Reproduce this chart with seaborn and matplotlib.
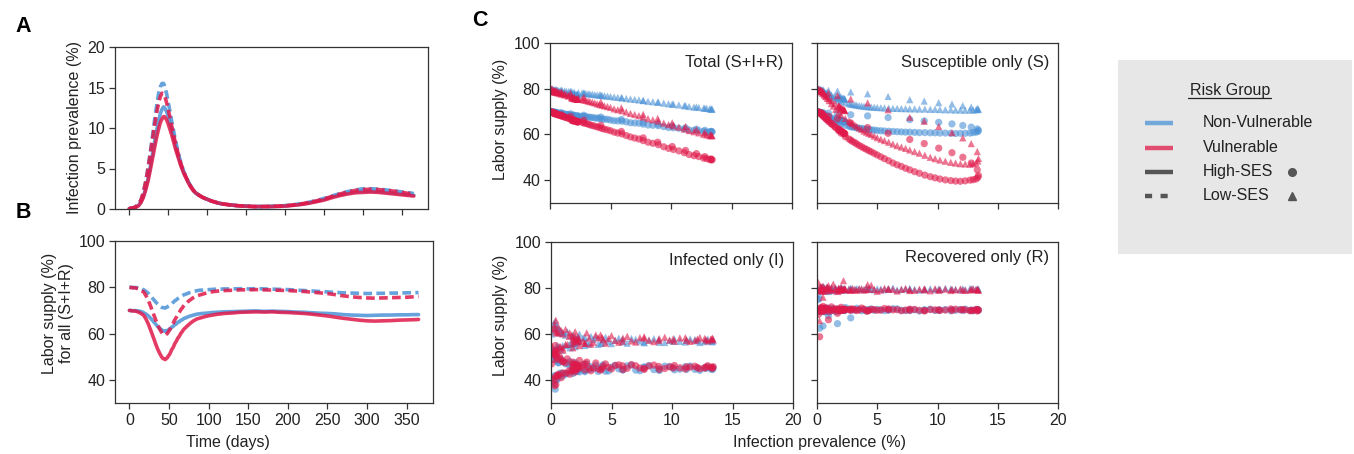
import numpy as np
import pandas as pd
import matplotlib
matplotlib.use("Agg")
import matplotlib.pyplot as plt
import seaborn as sns

# ---------------- data ----------------
days = [0, 4, 8, 12, 15, 18, 21, 24, 27, 30, 32, 34, 36, 38, 40, 42,
        44, 45, 46, 47, 48, 49, 50, 51, 52, 53, 54, 55, 56, 57, 58, 59, 60, 61, 62,
        63, 64, 65, 66, 67, 68, 69, 70, 71, 72, 73, 74, 75, 76, 77, 78, 79, 80,
        82, 85, 88, 92, 96, 100, 105, 110, 115, 120, 130, 140, 150, 160, 170, 180,
        190, 200, 210, 220, 230, 240, 250, 260, 270, 280, 290, 300, 310, 320, 330,
        340, 350, 360, 365]

# overall infection prevalence (x axis of panel C)
prev_all = [0.05, 0.11, 0.22, 0.5, 0.95, 1.7, 2.8, 4.2, 5.9, 7.7, 8.9, 10.1, 11.2, 12.1, 12.8, 13.3,
            13.4, 13.35, 13.2, 12.95, 12.7, 12.3, 11.9, 11.5, 11.1, 10.65, 10.2, 9.8, 9.4, 8.95, 8.5,
            8.1, 7.7, 7.35, 7.0, 6.65, 6.3, 5.95, 5.6, 5.3, 5.0, 4.75, 4.5, 4.3, 4.1, 3.9, 3.7, 3.5,
            3.3, 3.15, 2.95, 2.8, 2.65,
            2.35, 2.0, 1.8, 1.55, 1.35, 1.2, 1.0, 0.85, 0.72, 0.62, 0.5, 0.4, 0.35, 0.3, 0.3, 0.31,
            0.34, 0.39, 0.48, 0.6, 0.77, 0.97, 1.2, 1.5, 1.8, 2.0, 2.2, 2.3, 2.3, 2.25, 2.15, 2.05,
            1.95, 1.85, 1.8]

# panel A: infection prevalence by group
prev_nv_high = [0.05, 0.1, 0.2, 0.45, 0.85, 1.5, 2.5, 3.7, 5.2, 6.9, 8.0, 9.1, 10.1, 11.0, 11.8, 12.3,
                12.6, 12.55, 12.4, 12.2, 12.0, 11.7, 11.4, 11.05, 10.7, 10.35, 10.0, 9.6, 9.2, 8.8, 8.4,
                8.0, 7.6, 7.25, 6.9, 6.55, 6.2, 5.9, 5.6, 5.3, 5.0, 4.75, 4.5, 4.3, 4.1, 3.9, 3.7, 3.5,
                3.3, 3.15, 2.95, 2.8, 2.65,
                2.35, 2.0, 1.8, 1.55, 1.35, 1.2, 1.0, 0.85, 0.72, 0.62, 0.5, 0.4, 0.35, 0.3, 0.3, 0.3,
                0.33, 0.38, 0.47, 0.58, 0.75, 0.95, 1.2, 1.5, 1.75, 1.95, 2.1, 2.2, 2.2, 2.15, 2.05, 1.95,
                1.85, 1.75, 1.7]
prev_v_high = [0.05, 0.1, 0.2, 0.4, 0.8, 1.4, 2.3, 3.4, 4.8, 6.3, 7.3, 8.3, 9.2, 10.0, 10.7, 11.1,
               11.4, 11.4, 11.3, 11.15, 11.0, 10.75, 10.5, 10.2, 9.9, 9.6, 9.3, 8.95, 8.6, 8.25, 7.9,
               7.55, 7.2, 6.9, 6.6, 6.3, 6.0, 5.7, 5.4, 5.15, 4.9, 4.65, 4.4, 4.2, 4.0, 3.8, 3.6, 3.4,
               3.2, 3.05, 2.85, 2.7, 2.55,
               2.3, 2.0, 1.8, 1.55, 1.35, 1.2, 1.0, 0.85, 0.72, 0.62, 0.5, 0.4, 0.35, 0.3, 0.3, 0.3,
               0.32, 0.36, 0.45, 0.55, 0.7, 0.9, 1.1, 1.4, 1.65, 1.85, 2.0, 2.05, 2.1, 2.05, 1.95, 1.85,
               1.75, 1.65, 1.6]
prev_nv_low = [0.05, 0.12, 0.25, 0.6, 1.1, 2.0, 3.3, 5.0, 7.0, 9.1, 10.6, 12.0, 13.3, 14.4, 15.1, 15.5,
               15.5, 15.3, 15.0, 14.6, 14.2, 13.7, 13.2, 12.7, 12.2, 11.65, 11.1, 10.6, 10.1, 9.6, 9.1,
               8.65, 8.2, 7.75, 7.3, 6.9, 6.5, 6.15, 5.8, 5.5, 5.2, 4.9, 4.6, 4.35, 4.1, 3.9, 3.7, 3.5,
               3.3, 3.15, 2.95, 2.8, 2.65,
               2.35, 2.0, 1.8, 1.55, 1.35, 1.2, 1.0, 0.85, 0.72, 0.62, 0.5, 0.4, 0.35, 0.3, 0.3, 0.32,
               0.36, 0.42, 0.52, 0.65, 0.82, 1.05, 1.3, 1.6, 1.9, 2.15, 2.35, 2.5, 2.5, 2.45, 2.35, 2.25,
               2.1, 2.0, 1.9]
prev_v_low = [0.05, 0.12, 0.25, 0.6, 1.1, 2.0, 3.3, 4.9, 6.8, 8.7, 10.0, 11.2, 12.3, 13.2, 13.9, 14.3,
              14.2, 14.0, 13.8, 13.45, 13.1, 12.7, 12.3, 11.85, 11.4, 10.95, 10.5, 10.05, 9.6, 9.15, 8.7,
              8.3, 7.9, 7.5, 7.1, 6.75, 6.4, 6.05, 5.7, 5.4, 5.1, 4.85, 4.6, 4.35, 4.1, 3.9, 3.7, 3.5,
              3.3, 3.15, 2.95, 2.8, 2.65,
              2.35, 2.0, 1.8, 1.55, 1.35, 1.2, 1.0, 0.85, 0.72, 0.62, 0.5, 0.4, 0.35, 0.3, 0.3, 0.32,
              0.35, 0.4, 0.5, 0.62, 0.8, 1.0, 1.25, 1.55, 1.85, 2.1, 2.3, 2.4, 2.45, 2.4, 2.3, 2.2,
              2.05, 1.9, 1.85]

# panel B / C-total: labor supply for all (S+I+R)
lab_nv_high = [70.0, 69.9, 69.9, 69.7, 69.5, 69.0, 68.4, 67.6, 66.5, 65.3, 64.5, 63.7, 62.9, 62.3, 61.8, 61.3,
               61.1, 61.3, 61.1, 61.0, 61.3, 61.6, 61.8, 61.9, 62.3, 62.7, 62.9, 63.0, 63.4, 63.8, 64.0,
               64.1, 64.5, 64.9, 65.0, 65.1, 65.5, 65.8, 65.9, 66.0, 66.3, 66.6, 66.7, 66.7, 67.0, 67.1,
               67.2, 67.4, 67.5, 67.6, 67.7, 67.8, 67.9,
               68.1, 68.4, 68.5, 68.7, 68.8, 68.9, 69.1, 69.2, 69.3, 69.4, 69.5, 69.6, 69.7, 69.8, 69.6,
               69.7, 69.6, 69.5, 69.3, 69.2, 69.0, 68.8, 68.7, 68.5, 68.2, 68.0, 67.9, 67.8, 67.9, 68.0,
               68.0, 68.1, 68.1, 68.2, 68.2]
lab_v_high = [70.0, 69.8, 69.7, 69.2, 68.6, 67.9, 66.2, 64.0, 61.3, 58.5, 56.6, 54.7, 53.0, 51.6, 50.3, 49.3,
              49.0, 48.8, 49.0, 49.4, 49.6, 50.3, 50.7, 51.2, 52.0, 52.8, 53.4, 53.9, 54.6, 55.5, 56.1,
              56.6, 57.3, 58.0, 58.4, 58.9, 59.5, 60.2, 60.6, 61.0, 61.6, 62.0, 62.3, 62.6, 63.0, 63.3,
              63.6, 63.9, 64.2, 64.5, 64.8, 65.0, 65.3,
              65.7, 66.3, 66.6, 67.0, 67.4, 67.7, 68.0, 68.3, 68.5, 68.7, 68.9, 69.2, 69.3, 69.4, 69.3,
              69.4, 69.2, 69.1, 68.9, 68.7, 68.4, 68.0, 67.6, 67.1, 66.6, 66.2, 65.8, 65.5, 65.4, 65.5,
              65.6, 65.8, 65.9, 66.0, 66.1]
lab_nv_low = [80.0, 79.9, 79.9, 79.7, 79.4, 78.9, 78.2, 77.3, 76.1, 74.9, 74.1, 73.3, 72.6, 72.0, 71.5, 71.2,
              71.1, 71.0, 71.2, 71.4, 71.5, 71.8, 72.0, 72.2, 72.6, 72.9, 73.2, 73.4, 73.7, 74.1, 74.3,
              74.5, 74.8, 75.1, 75.3, 75.5, 75.7, 76.0, 76.2, 76.4, 76.6, 76.8, 76.9, 77.0, 77.2, 77.3,
              77.4, 77.6, 77.7, 77.8, 77.9, 78.0, 78.1,
              78.3, 78.5, 78.7, 78.8, 78.9, 79.0, 79.1, 79.2, 79.2, 79.3, 79.3, 79.4, 79.3, 79.4, 79.3,
              79.2, 79.1, 79.0, 78.8, 78.6, 78.4, 78.2, 78.0, 77.8, 77.6, 77.5, 77.4, 77.3, 77.4, 77.4,
              77.5, 77.5, 77.6, 77.7, 77.7]
lab_v_low = [80.0, 79.8, 79.7, 79.2, 78.5, 78.0, 76.3, 74.2, 71.6, 68.8, 67.0, 65.1, 63.5, 62.1, 60.8, 59.9,
             59.5, 59.4, 59.5, 59.8, 60.1, 60.7, 61.2, 61.7, 62.4, 63.2, 63.8, 64.3, 65.0, 65.8, 66.4,
             66.9, 67.6, 68.2, 68.7, 69.2, 69.8, 70.4, 70.8, 71.2, 71.8, 72.2, 72.5, 72.8, 73.1, 73.4,
             73.8, 74.1, 74.4, 74.6, 74.9, 75.1, 75.4,
             75.8, 76.3, 76.6, 77.0, 77.4, 77.8, 78.1, 78.3, 78.5, 78.6, 78.7, 78.9, 78.9, 79.0, 78.9,
             78.8, 78.7, 78.6, 78.4, 78.2, 77.9, 77.6, 77.3, 76.8, 76.3, 75.9, 75.6, 75.4, 75.3, 75.4,
             75.5, 75.6, 75.7, 75.9, 76.0]

# susceptible only
sus_nv_high = [70.0, 69.9, 69.8, 69.6, 69.3, 69.0, 68.6, 68.1, 67.4, 66.5, 65.9, 65.3, 64.6, 63.9, 63.2, 62.4,
               61.8, 61.3, 61.0, 60.8, 60.6, 60.5, 60.5, 60.4, 60.5, 60.6, 60.6, 60.7, 60.7, 60.8, 60.8,
               60.9, 61.0, 61.0, 61.1, 61.2, 61.3, 61.4, 61.5, 61.6, 61.7, 61.9, 62.0, 62.1, 62.3, 62.4,
               62.6, 62.7, 62.9, 63.1, 63.2, 63.4, 63.6,
               64.0, 64.6, 65.0, 65.6, 66.2, 66.7, 67.2, 67.7, 68.1, 68.4, 68.9, 69.2, 69.4, 69.5, 69.5,
               69.4, 69.3, 69.1, 68.9, 68.6, 68.2, 67.8, 67.3, 66.8, 66.3, 66.0, 65.7, 65.5, 65.5, 65.6,
               65.8, 66.0, 66.2, 66.4, 66.5]
sus_nv_low = [80.0, 79.9, 79.8, 79.6, 79.3, 79.0, 78.6, 77.8, 76.6, 75.2, 74.6, 73.9, 73.3, 72.6, 72.0, 71.4,
              71.0, 70.9, 70.8, 70.7, 70.7, 70.6, 70.7, 70.7, 70.8, 70.8, 70.9, 71.0, 71.0, 71.1, 71.1,
              71.2, 71.2, 71.3, 71.3, 71.4, 71.4, 71.5, 71.6, 71.7, 71.8, 71.9, 72.0, 72.1, 72.2, 72.3,
              72.5, 72.6, 72.8, 73.0, 73.1, 73.3, 73.5,
              73.9, 74.5, 75.0, 75.6, 76.2, 76.7, 77.2, 77.7, 78.1, 78.4, 78.9, 79.2, 79.4, 79.5, 79.5,
              79.4, 79.3, 79.1, 78.9, 78.6, 78.2, 77.8, 77.3, 76.8, 76.3, 76.0, 75.7, 75.5, 75.5, 75.6,
              75.8, 76.0, 76.2, 76.4, 76.5]
sus_v_high = [70.0, 69.8, 69.5, 69.0, 68.0, 66.8, 65.0, 63.0, 60.5, 57.8, 56.0, 54.0, 52.0, 50.0, 47.5, 44.5,
              42.0, 41.2, 40.5, 40.2, 40.0, 39.7, 39.5, 39.6, 39.8, 40.1, 40.5, 41.0, 41.5, 42.2, 43.0,
              43.7, 44.5, 45.2, 46.0, 46.7, 47.5, 48.5, 49.4, 50.2, 51.0, 51.7, 52.4, 52.9, 53.5, 54.0,
              54.6, 55.2, 55.8, 56.4, 56.9, 57.5, 58.0,
              59.0, 60.5, 61.6, 62.9, 64.0, 64.8, 65.8, 66.5, 67.2, 67.7, 68.3, 68.8, 69.1, 69.4, 69.4,
              69.3, 69.0, 68.7, 68.2, 67.5, 66.6, 65.6, 64.6, 63.4, 62.3, 61.5, 60.8, 60.4, 60.2, 60.4,
              60.8, 61.2, 61.7, 62.0, 62.2]
sus_v_low = [80.0, 79.8, 79.5, 79.0, 78.2, 77.0, 75.5, 73.8, 70.8, 67.5, 65.8, 63.5, 60.8, 58.5, 56.0, 52.5,
             49.5, 48.4, 47.5, 47.2, 47.0, 47.1, 47.2, 47.5, 47.8, 48.3, 48.8, 49.4, 50.0, 50.9, 51.8,
             52.5, 53.2, 53.9, 54.5, 55.1, 55.8, 56.6, 57.3, 57.9, 58.6, 59.3, 60.0, 60.5, 61.0, 61.5,
             62.2, 62.8, 63.5, 64.1, 64.7, 65.3, 65.9,
             67.0, 68.5, 69.6, 71.0, 72.4, 73.5, 74.8, 75.8, 76.6, 77.2, 78.0, 78.6, 78.9, 79.2, 79.3,
             79.2, 79.0, 78.7, 78.2, 77.6, 76.8, 75.8, 74.8, 73.6, 72.5, 71.7, 71.0, 70.6, 70.4, 70.6,
             71.0, 71.4, 71.8, 72.2, 72.4]

# infected only
inf_nv_high = [38.5, 52.0, 41.0, 48.5, 43.0, 46.5, 44.0, 45.8, 44.5, 45.5, 44.8, 45.3, 44.6, 45.2, 45.0, 44.7,
               45.3, 44.6, 44.9, 45.8, 45.4, 44.2, 44.6, 46.1, 45.8, 44.7, 44.4, 45.9, 46.0, 44.1, 44.5,
               46.3, 45.7, 44.0, 44.3, 46.5, 46.2, 44.4, 44.8, 46.4, 45.6, 43.9, 43.8, 46.6, 45.0, 43.7,
               46.3, 44.9, 45.8, 44.5, 46.9, 43.6, 46.8,
               43.5, 47.5, 42.8, 48.0, 43.0, 47.0, 42.0, 49.0, 41.5, 47.5, 40.5, 50.5, 36.0, 53.0, 39.0,
               49.0, 42.0, 51.0, 40.0, 47.5, 43.0, 48.0, 42.5, 46.5, 44.0, 46.5, 43.8, 45.6, 44.6, 46.0,
               44.0, 46.2, 43.5, 46.8, 44.5]
inf_v_high = [47.0, 40.5, 51.5, 42.0, 48.0, 44.0, 47.0, 44.8, 46.2, 45.0, 45.9, 45.2, 45.7, 45.4, 45.6, 45.3,
              45.8, 45.1, 45.5, 46.2, 45.2, 44.9, 46.0, 45.6, 44.8, 45.3, 46.3, 45.7, 45.0, 44.6, 46.5,
              46.1, 44.6, 45.2, 46.2, 46.7, 45.1, 44.5, 46.6, 46.3, 44.8, 45.5, 47.0, 45.9, 44.3, 44.8,
              47.4, 45.3, 44.0, 45.2, 47.8, 44.4, 46.2,
              48.5, 43.5, 47.8, 42.5, 49.2, 43.0, 48.0, 41.0, 50.0, 42.5, 52.0, 38.0, 55.0, 40.0, 50.5,
              37.5, 52.5, 41.5, 49.5, 42.0, 49.0, 43.0, 47.5, 44.0, 47.0, 44.5, 46.5, 45.0, 46.0, 45.2,
              46.4, 44.6, 46.8, 44.2, 46.0]
inf_nv_low = [60.0, 53.0, 64.5, 55.0, 60.5, 55.5, 58.5, 56.2, 57.8, 56.5, 57.6, 56.8, 57.4, 57.0, 57.3, 56.9,
              57.5, 56.6, 57.1, 57.9, 56.7, 56.3, 57.6, 57.9, 56.5, 56.8, 57.9, 57.2, 56.3, 56.4, 58.0,
              57.4, 56.2, 56.9, 57.7, 58.1, 56.0, 56.6, 58.2, 57.3, 55.8, 56.7, 58.6, 57.5, 55.9, 55.5,
              58.7, 57.6, 59.0, 55.6, 56.4, 55.0, 58.3,
              60.0, 54.5, 59.5, 54.0, 61.0, 55.0, 60.5, 53.0, 62.0, 54.5, 63.5, 51.0, 65.5, 50.0, 63.0,
              52.5, 61.5, 52.0, 62.5, 54.0, 60.5, 55.0, 59.5, 55.5, 59.0, 56.0, 58.5, 56.5, 58.0, 56.8,
              57.9, 56.4, 58.3, 56.0, 57.5]
inf_v_low = [55.0, 62.0, 52.5, 60.5, 54.0, 59.5, 56.0, 58.6, 56.9, 58.2, 57.2, 57.9, 57.3, 57.8, 57.5, 57.9,
             57.4, 58.2, 57.8, 57.0, 58.1, 58.5, 57.2, 56.8, 58.4, 58.3, 56.9, 57.4, 58.6, 58.0, 56.7,
             57.3, 58.8, 58.4, 56.5, 57.0, 59.0, 58.2, 56.4, 57.2, 59.3, 58.0, 56.0, 57.5, 59.6, 58.3,
             59.6, 56.4, 55.6, 58.2, 60.5, 55.9, 57.0,
             55.0, 61.0, 54.0, 60.5, 55.5, 62.0, 53.0, 61.5, 54.5, 63.0, 52.0, 66.0, 49.0, 64.0, 52.5,
             62.5, 51.5, 61.0, 53.5, 60.5, 54.5, 60.0, 55.5, 59.0, 56.0, 58.8, 56.8, 58.2, 57.0, 58.4,
             57.2, 58.0, 56.6, 58.6, 57.4]

# recovered only
rec_nv_high = [70.0, 75.0, 62.5, 63.5, 68.0, 64.5, 67.0, 70.5, 70.4, 70.2, 70.5, 70.3, 70.6, 70.2, 70.4, 70.5,
               70.3, 70.5, 70.6, 70.1, 70.2, 70.8, 70.7, 70.3, 70.1, 70.6, 70.5, 70.2, 70.8, 70.4, 70.0,
               70.5, 70.6, 70.2, 70.3, 70.9, 71.0, 70.4, 70.2, 70.5, 70.7, 70.3, 70.9, 70.5, 70.0, 70.6,
               70.1, 70.7, 71.2, 70.3, 70.6, 70.4, 70.9,
               71.5, 70.2, 70.9, 69.8, 71.0, 70.5, 69.5, 71.3, 70.6, 69.6, 70.9, 70.2, 70.8, 69.9, 70.5,
               71.0, 70.3, 69.7, 70.6, 70.8, 69.9, 70.4, 70.9, 70.1, 70.6, 70.3, 70.5, 70.2, 70.6, 70.4,
               70.3, 70.7, 70.2, 70.5, 70.4]
rec_v_high = [70.0, 68.5, 58.8, 72.0, 66.2, 69.0, 70.8, 70.0, 70.6, 70.3, 70.1, 70.5, 70.2, 70.6, 70.3, 70.0,
              70.4, 70.6, 70.7, 70.2, 70.1, 70.5, 70.5, 70.8, 70.9, 70.4, 70.2, 70.5, 70.6, 70.1, 70.3,
              70.7, 70.8, 70.4, 70.1, 70.6, 70.5, 70.9, 71.1, 70.4, 70.3, 70.6, 70.7, 70.2, 70.0, 70.8,
              71.3, 70.5, 70.2, 70.6, 70.9, 70.3, 70.6,
              70.8, 71.6, 70.0, 71.0, 70.4, 71.8, 69.8, 70.9, 71.4, 69.9, 71.0, 70.3, 71.5, 69.7, 70.8,
              71.2, 70.1, 70.7, 69.9, 71.1, 70.4, 70.9, 70.2, 70.6, 70.8, 70.3, 70.5, 70.7, 70.4, 70.6,
              70.3, 70.5, 70.7, 70.4, 70.6]
rec_nv_low = [80.0, 75.5, 77.0, 80.5, 78.5, 79.0, 79.8, 79.4, 79.7, 79.5, 79.3, 79.6, 79.4, 79.7, 79.5, 79.3,
              79.6, 79.5, 79.4, 79.7, 79.8, 79.3, 79.2, 79.5, 79.6, 79.9, 79.4, 79.3, 79.7, 79.6, 79.1,
              79.5, 79.8, 79.6, 79.4, 79.2, 80.0, 79.5, 79.3, 79.6, 79.7, 79.2, 79.6, 79.9, 80.1, 79.4,
              79.3, 79.7, 79.8, 79.5, 79.4, 79.9, 79.6,
              79.0, 80.3, 79.4, 79.9, 78.9, 80.2, 79.5, 80.4, 78.8, 79.7, 80.5, 79.1, 80.0, 78.9, 80.3,
              79.4, 80.1, 79.2, 79.8, 80.2, 79.3, 79.9, 79.5, 80.0, 79.4, 79.7, 79.5, 79.6, 79.4, 79.7,
              79.5, 79.6, 79.3, 79.7, 79.5]
rec_v_low = [80.0, 82.4, 65.8, 76.0, 81.0, 78.5, 79.0, 81.5, 79.5, 79.2, 79.6, 79.0, 79.4, 79.1, 79.5, 79.2,
             79.0, 79.3, 79.4, 79.6, 79.1, 79.0, 79.6, 79.2, 78.9, 79.5, 79.3, 79.7, 78.8, 79.2, 79.5,
             79.0, 78.9, 79.8, 79.4, 78.7, 79.4, 79.6, 79.9, 79.1, 78.6, 79.4, 81.2, 79.5, 79.3, 79.1,
             79.7, 79.6, 79.0, 79.3, 79.8, 79.1, 79.4,
             79.6, 80.2, 78.8, 79.7, 81.7, 78.9, 79.8, 80.3, 78.7, 79.5, 80.8, 78.6, 80.1, 79.0, 80.6,
             78.9, 79.9, 80.4, 78.8, 79.6, 80.2, 79.1, 79.8, 79.4, 80.0, 79.3, 83.2, 79.2, 79.6, 79.4,
             79.7, 79.2, 79.5, 79.3, 79.6]

risk_levels = ["Non-Vulnerable", "Vulnerable"]
ses_levels = ["High-SES", "Low-SES"]
panel_titles = ["Total (S+I+R)", "Susceptible only (S)", "Infected only (I)", "Recovered only (R)"]

# ---------------- build long table ----------------
groups = [
    ("Non-Vulnerable", "High-SES", prev_nv_high, lab_nv_high, sus_nv_high, inf_nv_high, rec_nv_high),
    ("Non-Vulnerable", "Low-SES", prev_nv_low, lab_nv_low, sus_nv_low, inf_nv_low, rec_nv_low),
    ("Vulnerable", "High-SES", prev_v_high, lab_v_high, sus_v_high, inf_v_high, rec_v_high),
    ("Vulnerable", "Low-SES", prev_v_low, lab_v_low, sus_v_low, inf_v_low, rec_v_low),
]
frames = []
for risk, ses, pg, tot, s, i, r in groups:
    frames.append(pd.DataFrame({
        "day": days, "prev_all": prev_all, "prev": pg,
        "Total": tot, "S": s, "I": i, "R": r,
        "risk": risk, "ses": ses}))
df = pd.concat(frames, ignore_index=True)

# ---------------- style ----------------
sns.set_style("ticks")
plt.rcParams["font.family"] = ["Liberation Sans", "DejaVu Sans"]
plt.rcParams["axes.edgecolor"] = "#333333"
plt.rcParams["axes.linewidth"] = 0.9
plt.rcParams["xtick.color"] = "#333333"
plt.rcParams["ytick.color"] = "#333333"
plt.rcParams["xtick.labelcolor"] = "#222222"
plt.rcParams["ytick.labelcolor"] = "#222222"

BLUE = "#4b92d6"
RED = "#e0194a"
palette = {"Non-Vulnerable": BLUE, "Vulnerable": RED}
TXT = "#222222"
FS = 11.5

W, H = 1354, 454
fig = plt.figure(figsize=(W / 100, H / 100), dpi=100)


def box(l, t, r, b):
    return [l / W, 1 - b / H, (r - l) / W, (b - t) / H]


def ftext(px, py, s, **kw):
    kw.setdefault("color", TXT)
    kw.setdefault("fontsize", FS)
    fig.text(px / W, 1 - py / H, s, **kw)


axA = fig.add_axes(box(115, 47, 428, 209))
axB = fig.add_axes(box(115, 241, 433, 403))
axC = [fig.add_axes(box(550, 43, 792, 203)),
       fig.add_axes(box(817, 43, 1058, 203)),
       fig.add_axes(box(551, 242, 793, 403)),
       fig.add_axes(box(817, 242, 1058, 403))]
axL = fig.add_axes(box(1118, 60, 1352, 254))

dash_map = {"High-SES": "", "Low-SES": (2.4, 1.2)}

# Panel A
sns.lineplot(data=df, x="day", y="prev", hue="risk", style="ses",
             hue_order=risk_levels, style_order=ses_levels, palette=palette,
             dashes=dash_map, linewidth=2.6, alpha=0.85, estimator=None,
             legend=False, ax=axA)
axA.set_xlim(-18.25, 383.25)
axA.set_ylim(0, 20)
axA.set_xticks(range(0, 351, 50))
axA.set_yticks([0, 5, 10, 15, 20])
axA.tick_params(labelbottom=False)

# Panel B
sns.lineplot(data=df, x="day", y="Total", hue="risk", style="ses",
             hue_order=risk_levels, style_order=ses_levels, palette=palette,
             dashes=dash_map, linewidth=2.6, alpha=0.85, estimator=None,
             legend=False, ax=axB)
axB.set_xlim(-18.25, 383.25)
axB.set_ylim(30, 100)
axB.set_xticks(range(0, 351, 50))
axB.set_yticks([40, 60, 80, 100])

# Panel C
cols = ["Total", "S", "I", "R"]
for k, (ax, col, title) in enumerate(zip(axC, cols, panel_titles)):
    sns.scatterplot(data=df, x="prev_all", y=col, hue="risk", style="ses",
                    hue_order=risk_levels, style_order=ses_levels,
                    palette=palette, markers={"High-SES": "o", "Low-SES": "^"},
                    s=27, alpha=0.6, linewidth=0, legend=False, ax=ax)
    ax.set_xlim(0, 20)
    ax.set_ylim(30, 100)
    ax.set_xticks([0, 5, 10, 15, 20])
    ax.set_yticks([40, 60, 80, 100])
    if k < 2:
        ax.tick_params(labelbottom=False)
    if k % 2 == 1:
        ax.tick_params(labelleft=False)
    ty = [0.875, 0.879, 0.886, 0.905][k]
    ax.text(0.965, ty, title, transform=ax.transAxes, ha="right", va="center",
            fontsize=FS + 0.5, color=TXT)

for ax in [axA, axB] + axC:
    ax.set_xlabel("")
    ax.set_ylabel("")
    ax.tick_params(direction="out", length=4, width=0.9, labelsize=FS, pad=3)
    for sp in ax.spines.values():
        sp.set_visible(True)

# labels
ftext(23, 26, "A", fontsize=15.5, fontweight="bold", ha="center", va="center", color="black")
ftext(23, 213, "B", fontsize=15.5, fontweight="bold", ha="center", va="center", color="black")
ftext(480, 21, "C", fontsize=15.5, fontweight="bold", ha="center", va="center", color="black")
ftext(75, 127, "Infection prevalence (%)", rotation=90, ha="center", va="center")
ftext(58, 313, "Labor supply (%)\nfor all (S+I+R)", rotation=90, ha="center", va="center",
      linespacing=1.15)
ftext(228, 442, "Time (days)", ha="center", va="center")
ftext(500, 119, "Labor supply (%)", rotation=90, ha="center", va="center")
ftext(500, 315, "Labor supply (%)", rotation=90, ha="center", va="center")
ftext(820, 442, "Infection prevalence (%)", ha="center", va="center")

# legend box
axL.set_facecolor("#e7e7e7")
axL.set_xlim(0, 1)
axL.set_ylim(0, 1)
axL.set_xticks([])
axL.set_yticks([])
for sp in axL.spines.values():
    sp.set_visible(False)
axL.text(0.478, 0.842, "Risk Group", ha="center", va="center", fontsize=FS, color=TXT)
axL.plot([0.298, 0.655], [0.806, 0.806], color=TXT, lw=0.9)
rows_y = [0.677, 0.548, 0.424, 0.299]
legend_labels = ["Non-Vulnerable", "Vulnerable", "High-SES", "Low-SES"]
legend_colors = [BLUE, RED, "#555555", "#555555"]
legend_styles = ["-", "-", "-", (0, (1.6, 1.9))]
for y, lab, c, ls in zip(rows_y, legend_labels, legend_colors, legend_styles):
    axL.plot([0.114, 0.234], [y, y], color=c, lw=3.2, ls=ls,
             alpha=0.75 if c != "#555555" else 1.0, solid_capstyle="butt")
    axL.text(0.361, y, lab, ha="left", va="center", fontsize=FS, color=TXT)
axL.plot([0.742], [0.424], marker="o", ms=5.5, color="#555555", ls="none")
axL.plot([0.742], [0.299], marker="^", ms=5.5, color="#555555", ls="none")

fig.savefig("out.png", dpi=100)
